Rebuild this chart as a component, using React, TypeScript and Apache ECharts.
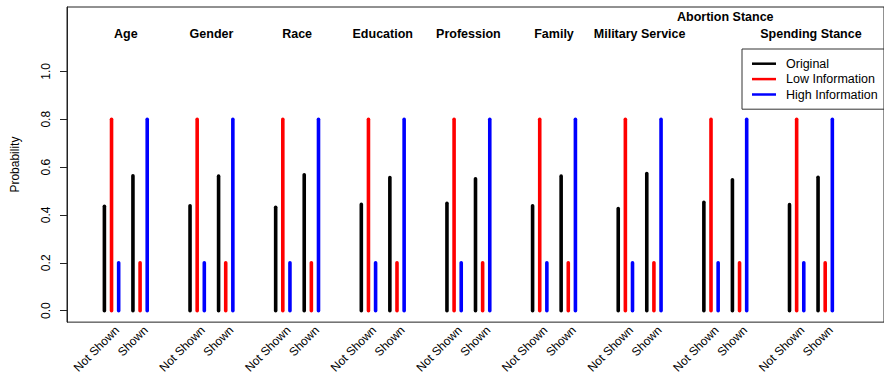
import React, { useEffect, useRef } from "react";
import * as echarts from "echarts";

// Attribute groups shown along the x axis
const groups = [
  "Age",
  "Gender",
  "Race",
  "Education",
  "Profession",
  "Family",
  "Military Service",
  "Abortion Stance",
  "Spending Stance",
];
const statuses = ["Not Shown", "Shown"];

// Probability under each condition, per group
const originalNotShown = [0.436, 0.438, 0.432, 0.444, 0.449, 0.438, 0.427, 0.453, 0.443];
const originalShown = [0.564, 0.562, 0.568, 0.556, 0.551, 0.562, 0.573, 0.547, 0.557];
// Low / high information conditions, per status (Not Shown, Shown)
const lowInformation = [0.8, 0.2];
const highInformation = [0.2, 0.8];

const seriesNames = ["Original", "Low Information", "High Information"];
const seriesColors = ["#000000", "#ff0000", "#0000ff"];

const yTicks = [0, 0.2, 0.4, 0.6, 0.8, 1.0];

// Layout constants (axis units)
const GROUP_STRIDE = 3;
const BAR_OFFSETS = [-0.25, 0, 0.25];
const LABEL_NUDGE = 0.2;
const TITLE_Y = 1.155;
const TITLE_Y_RAISED = 1.228;
const RAISED_TITLES = new Set(["Abortion Stance"]);
const FONT = "'Liberation Sans', Arial, Helvetica, sans-serif";

const statusPos = (g: number, s: number) => GROUP_STRIDE * g + 1 + s;

function seriesValues(k: number): number[][] {
  const out: number[][] = [];
  groups.forEach((_, g) => {
    statuses.forEach((__, s) => {
      let v: number;
      if (k === 0) v = s === 0 ? originalNotShown[g] : originalShown[g];
      else if (k === 1) v = lowInformation[s];
      else v = highInformation[s];
      out.push([statusPos(g, s) + BAR_OFFSETS[k], v]);
    });
  });
  return out;
}

export default function App() {
  const ref = useRef<HTMLDivElement>(null);

  useEffect(() => {
    if (!ref.current) return;
    const chart = echarts.init(ref.current, null, { renderer: "svg" });

    const labelValues: number[] = [];
    groups.forEach((_, g) =>
      statuses.forEach((__, s) => labelValues.push(statusPos(g, s) + LABEL_NUDGE))
    );

    const barSeries = seriesNames.map((name, k) => ({
      type: "custom",
      name,
      data: seriesValues(k),
      itemStyle: { color: seriesColors[k] },
      clip: false,
      renderItem: (_params: any, api: any) => {
        const x = api.value(0);
        const v = api.value(1);
        const p0 = api.coord([x, 0]);
        const p1 = api.coord([x, v]);
        return {
          type: "line",
          shape: { x1: p0[0], y1: p0[1], x2: p1[0], y2: p1[1] },
          style: { stroke: seriesColors[k], lineWidth: 3.6, lineCap: "round" },
        };
      },
    }));

    const titleSeries = {
      type: "custom",
      name: "titles",
      silent: true,
      clip: false,
      data: groups.map((name, g) => [GROUP_STRIDE * g + 1.5, RAISED_TITLES.has(name) ? TITLE_Y_RAISED : TITLE_Y, g]),
      renderItem: (_params: any, api: any) => {
        const p = api.coord([api.value(0), api.value(1)]);
        return {
          type: "text",
          x: p[0],
          y: p[1],
          style: {
            text: groups[api.value(2)],
            fill: "#000",
            font: `bold 12.5px ${FONT}`,
            align: "center",
            verticalAlign: "middle",
          },
        };
      },
    };

    chart.setOption({
      animation: false,
      backgroundColor: "#ffffff",
      textStyle: { fontFamily: FONT },
      grid: {
        left: 67,
        top: 7,
        width: 819,
        height: 318,
        show: true,
        borderColor: "#222",
        borderWidth: 1,
        backgroundColor: "transparent",
        containLabel: false,
      },
      legend: {
        orient: "vertical",
        left: 742,
        top: 49,
        padding: [7, 30, 7, 10],
        itemGap: 0,
        itemWidth: 24,
        itemHeight: 2.5,
        borderColor: "#333",
        borderWidth: 1,
        borderRadius: 0,
        selectedMode: false,
        textStyle: {
          fontSize: 12.5,
          color: "#000",
          fontFamily: FONT,
          lineHeight: 15.4,
          padding: [0, 0, 0, 5],
        },
        data: seriesNames.map((name) => ({ name, icon: "rect" })),
      },
      xAxis: {
        type: "value",
        min: -0.56,
        max: 28.06,
        axisLine: { show: false },
        axisTick: { show: false },
        splitLine: { show: false },
        axisLabel: {
          customValues: labelValues,
          rotate: 45,
          margin: 6,
          fontSize: 12,
          color: "#000",
          fontFamily: FONT,
          formatter: (v: number) =>
            statuses[Math.round(v - LABEL_NUDGE - 1) % GROUP_STRIDE] ?? "",
        },
      },
      yAxis: {
        type: "value",
        min: -0.048,
        max: 1.269,
        name: "Probability",
        nameLocation: "middle",
        nameRotate: 90,
        nameGap: 46,
        nameTextStyle: { fontSize: 12, color: "#000", fontFamily: FONT },
        axisLine: { show: true, onZero: false, lineStyle: { color: "#222", width: 1 } },
        axisTick: {
          show: true,
          customValues: yTicks,
          length: 7,
          inside: false,
          lineStyle: { color: "#222", width: 1 },
        },
        splitLine: { show: false },
        axisLabel: {
          customValues: yTicks,
          rotate: 90,
          margin: 15,
          fontSize: 12,
          color: "#000",
          fontFamily: FONT,
          formatter: (v: number) => v.toFixed(1),
        },
      },
      series: [...barSeries, titleSeries],
    });

    return () => chart.dispose();
  }, []);

  return (
    <div
      ref={ref}
      style={{ position: "absolute", left: 0, top: 0, width: 884, height: 376 }}
    />
  );
}
